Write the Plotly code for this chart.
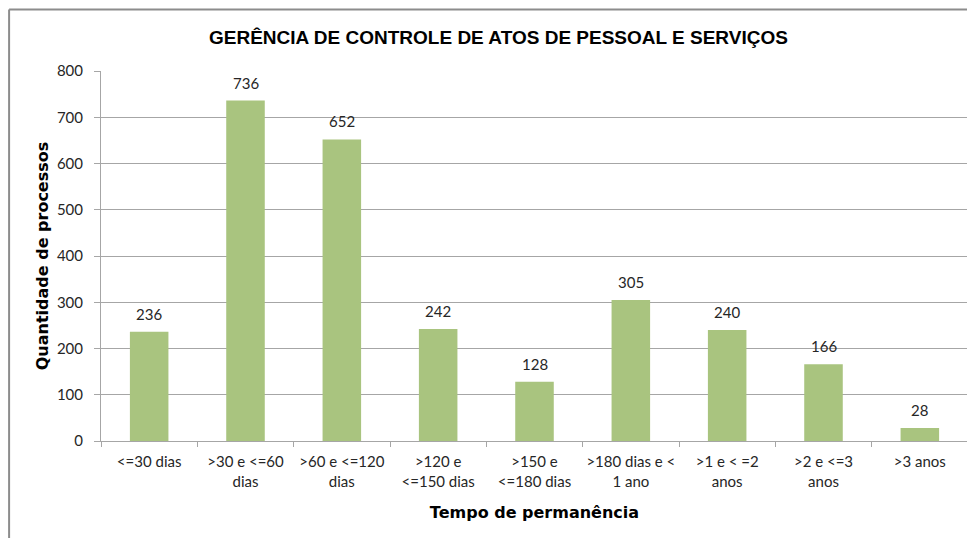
import plotly.graph_objects as go

categories = [
    "&lt;=30 dias",
    "&gt;30 e &lt;=60<br>dias",
    "&gt;60 e &lt;=120<br>dias",
    "&gt;120 e<br>&lt;=150 dias",
    "&gt;150 e<br>&lt;=180 dias",
    "&gt;180 dias e &lt;<br>1 ano",
    "&gt;1 e &lt; =2<br>anos",
    "&gt;2 e &lt;=3<br>anos",
    "&gt;3 anos",
]
values = [236, 736, 652, 242, 128, 305, 240, 166, 28]
y_ticks = [0, 100, 200, 300, 400, 500, 600, 700, 800]

bar_color = "#A9C47F"
grid_color = "#A6A6A6"
text_font = "Lato, 'Open Sans', sans-serif"

fig = go.Figure()
fig.add_trace(go.Bar(
    x=categories,
    y=values,
    marker=dict(color=bar_color, line=dict(width=0)),
    width=0.4,
    cliponaxis=False,
))

for c, v in zip(categories, values):
    fig.add_annotation(x=c, y=v, text=str(v), showarrow=False,
                       yanchor="bottom", yshift=7,
                       font=dict(family=text_font, size=15, color="#262626"))

fig.update_layout(
    width=975,
    height=538,
    margin=dict(l=93, r=15, t=63, b=105, autoexpand=False),
    paper_bgcolor="white",
    plot_bgcolor="white",
    showlegend=False,
    title=dict(
        text="<b>GERÊNCIA DE CONTROLE DE ATOS DE PESSOAL E SERVIÇOS</b>",
        x=0.503, xanchor="center",
        y=0.946, yanchor="middle",
        font=dict(family="'Liberation Sans Narrow', 'Liberation Sans', Arial, sans-serif", size=19, color="#000000"),
    ),
    xaxis=dict(
        showgrid=False,
        showline=True, linecolor=grid_color, linewidth=1,
        ticks="outside", ticklen=5, tickcolor=grid_color,
        tickson="boundaries",
        tickangle=0,
        automargin=False,
        ticklabelstandoff=7,
        tickfont=dict(family=text_font, size=15, color="#262626"),
        title=dict(text="<b>Tempo de permanência</b>",
                   font=dict(family="'DejaVu Sans', sans-serif", size=16, color="#000000"),
                   standoff=18),
        fixedrange=True,
    ),
    yaxis=dict(
        range=[0, 800],
        tickvals=y_ticks,
        showgrid=True, gridcolor=grid_color, gridwidth=1,
        showline=True, linecolor=grid_color, linewidth=1,
        ticks="outside", ticklen=6, tickcolor=grid_color,
        ticklabelstandoff=8,
        automargin=False,
        tickfont=dict(family=text_font, size=15, color="#262626"),
        zeroline=False,
        title=dict(text="<b>Quantidade de processos</b>",
                   font=dict(family="'DejaVu Sans', sans-serif", size=16, color="#000000"),
                   standoff=4),
        fixedrange=True,
    ),
)

fig.add_shape(type="line", xref="paper", yref="paper",
              x0=-0.106, x1=1.03, y0=1.166, y1=1.166,
              line=dict(color="#8C8C8C", width=2))
fig.add_shape(type="line", xref="paper", yref="paper",
              x0=-0.106, x1=-0.106, y0=1.166, y1=-0.35,
              line=dict(color="#8C8C8C", width=2))

fig.write_html("out.html")
